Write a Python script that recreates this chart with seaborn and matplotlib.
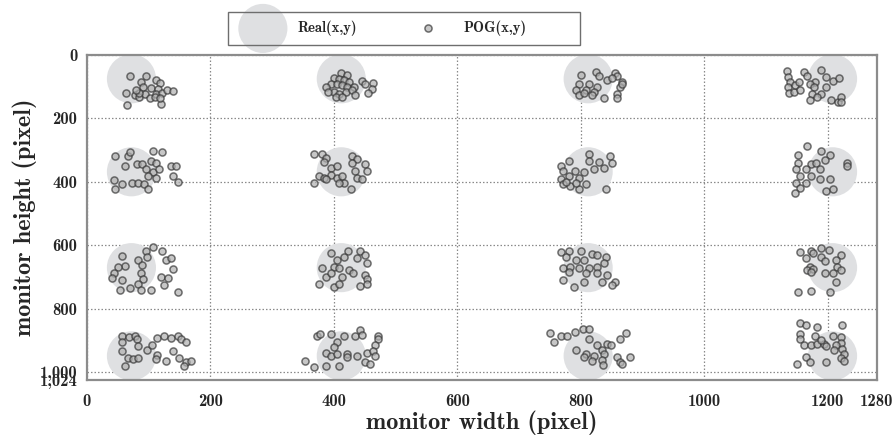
import matplotlib
matplotlib.use("Agg")
import matplotlib.pyplot as plt
from matplotlib.patches import Rectangle
import seaborn as sns
import pandas as pd

# ---- data ----
real_x = [72, 412, 812, 1208, 72, 412, 812, 1208, 72, 412, 812, 1208, 72, 412, 812, 1208]
real_y = [75, 75, 75, 75, 368, 368, 368, 368, 670, 670, 670, 670, 948, 948, 948, 948]

row1_x = [70, 95, 64, 65, 88, 111, 119, 91, 104, 115, 77, 85, 94, 102, 112, 122, 130, 139, 120, 84, 110, 118, 80,
          411, 421, 400, 408, 416, 424, 396, 405, 413, 421, 432, 446, 450, 464, 462, 456, 400, 408, 419, 430, 434, 403, 413, 388, 390,
          800, 824, 830, 855, 859, 843, 867, 797, 814, 826, 863, 793, 809, 822, 859, 797, 818, 838, 859, 805, 851, 867,
          1134, 1136, 1139, 1136, 1138, 1145, 1147, 1153, 1161, 1166, 1179, 1171, 1178, 1190, 1198, 1208, 1219, 1197, 1190, 1174, 1171, 1182, 1206, 1217, 1222, 1222, 1155]
row1_y = [67, 67, 120, 159, 85, 79, 87, 100, 104, 106, 127, 132, 124, 137, 122, 119, 109, 113, 153, 120, 132, 137, 109,
          58, 63, 71, 77, 79, 85, 90, 92, 95, 100, 100, 81, 92, 88, 106, 120, 116, 122, 116, 111, 127, 132, 132, 100, 118,
          63, 53, 67, 56, 67, 79, 85, 90, 90, 100, 100, 109, 111, 116, 122, 127, 127, 137, 137, 119, 74, 90,
          50, 69, 85, 100, 119, 116, 95, 85, 53, 67, 85, 90, 100, 48, 69, 81, 74, 100, 122, 124, 143, 132, 143, 148, 132, 148, 111]

row2_x = [45, 66, 70, 107, 122, 62, 81, 89, 103, 112, 95, 107, 117, 136, 145, 99, 139, 43, 56, 73, 83, 93, 99, 45, 147, 112,
          368, 380, 388, 384, 396, 405, 430, 438, 430, 450, 454, 434, 376, 384, 396, 405, 413, 417, 409, 438, 446, 428, 368, 388,
          814, 847, 851, 781, 814, 830, 838, 768, 772, 791, 805, 822, 781, 797, 768, 772, 783, 797, 809, 841, 776, 793,
          1166, 1152, 1189, 1204, 1152, 1173, 1181, 1196, 1148, 1165, 1188, 1232, 1232, 1156, 1173, 1188, 1204, 1148, 1165, 1155, 1147, 1198, 1208]
row2_y = [317, 317, 305, 302, 305, 349, 344, 344, 333, 339, 360, 370, 360, 351, 351, 381, 381, 394, 407, 402, 402, 407, 423, 423, 400, 386,
          312, 312, 323, 337, 355, 349, 317, 328, 339, 344, 365, 365, 381, 389, 379, 386, 381, 402, 402, 386, 392, 421, 404, 392,
          312, 317, 339, 333, 333, 337, 355, 349, 365, 365, 370, 360, 381, 389, 392, 407, 413, 421, 407, 421, 400, 402,
          288, 315, 302, 315, 339, 344, 339, 330, 360, 360, 360, 339, 349, 381, 381, 392, 392, 402, 402, 418, 434, 429, 421]

row3_x = [107, 122, 95, 97, 56, 83, 89, 128, 136, 62, 50, 140, 43, 41, 56, 87, 91, 120, 131, 83, 54, 70, 87, 103, 124, 147,
          396, 423, 442, 450, 405, 417, 438, 380, 401, 409, 425, 453, 388, 413, 431, 450, 454, 376, 401, 409, 442, 454, 396,
          768, 781, 800, 818, 826, 841, 776, 793, 805, 838, 772, 783, 797, 814, 826, 781, 809, 826, 843, 772, 789, 805, 834, 855, 851,
          1155, 1173, 1177, 1189, 1202, 1165, 1189, 1196, 1221, 1214, 1171, 1166, 1177, 1216, 1222, 1196, 1208, 1173, 1213, 1152, 1173, 1204]
row3_y = [605, 616, 619, 635, 633, 646, 661, 646, 640, 665, 669, 675, 686, 704, 709, 688, 707, 698, 704, 722, 739, 735, 739, 741, 725, 746,
          624, 619, 616, 630, 646, 637, 640, 672, 667, 672, 677, 656, 698, 698, 688, 693, 707, 722, 730, 722, 728, 720, 688,
          622, 616, 619, 626, 630, 635, 635, 646, 646, 656, 672, 667, 672, 672, 667, 683, 688, 688, 693, 709, 730, 714, 714, 714, 725,
          622, 616, 624, 608, 614, 640, 637, 648, 630, 646, 667, 677, 675, 667, 677, 688, 688, 683, 714, 746, 743, 746]

row4_x = [56, 56, 68, 78, 81, 83, 56, 66, 62, 74, 83, 97, 106, 114, 124, 136, 147, 153, 161, 114, 112, 128, 140, 149, 161, 169, 157,
          372, 378, 396, 417, 434, 442, 446, 471, 471, 405, 401, 467, 388, 395, 405, 421, 421, 438, 454, 464, 467, 354, 368, 388, 409, 450, 458,
          750, 756, 768, 778, 791, 803, 814, 874, 863, 814, 826, 843, 849, 834, 838, 793, 809, 822, 805, 818, 834, 836, 859, 863, 867, 880,
          1155, 1165, 1183, 1223, 1156, 1180, 1156, 1161, 1173, 1183, 1194, 1198, 1208, 1221, 1221, 1213, 1223, 1210, 1227, 1221, 1227, 1165, 1150, 1171, 1198, 1189]
row4_y = [886, 905, 889, 884, 894, 917, 934, 956, 981, 958, 955, 928, 915, 892, 886, 892, 886, 896, 903, 945, 958, 963, 934, 955, 966, 963, 979,
          886, 878, 878, 886, 886, 868, 881, 886, 896, 905, 921, 915, 939, 947, 942, 942, 952, 949, 939, 934, 949, 963, 984, 979, 979, 968, 973,
          875, 903, 884, 886, 873, 864, 862, 875, 894, 894, 915, 910, 915, 931, 942, 931, 942, 947, 952, 963, 960, 977, 952, 968, 973, 952,
          843, 852, 857, 852, 878, 884, 894, 915, 915, 910, 910, 917, 886, 889, 907, 915, 926, 931, 942, 955, 963, 952, 973, 968, 968, 899]

x_ticks = [0, 200, 400, 600, 800, 1000, 1200, 1280]
x_tick_labels = ["0", "200", "400", "600", "800", "1000", "1200", "1280"]
y_ticks = [0, 200, 400, 600, 800, 1000, 1024]
y_tick_labels = ["0", "200", "400", "600", "800", "1,000", "1,024"]

real_df = pd.DataFrame({"x": real_x, "y": real_y})
pog_df = pd.DataFrame({"x": row1_x + row2_x + row3_x + row4_x,
                       "y": row1_y + row2_y + row3_y + row4_y})

# ---- style ----
sns.set_style("white")
plt.rcParams["font.family"] = ["cmb10", "DejaVu Serif"]
plt.rcParams["axes.unicode_minus"] = False

W, H = 895, 442
fig = plt.figure(figsize=(W / 100, H / 100), dpi=100)
ax = fig.add_axes([87 / W, 1 - 380 / H, 790 / W, 325 / H])

sns.scatterplot(data=real_df, x="x", y="y", s=1250, color="#dfe0e2",
                edgecolor="none", linewidth=0, label="Real(x,y)", ax=ax, zorder=2)
sns.scatterplot(data=pog_df, x="x", y="y", s=26, facecolor="#b0b0b0",
                edgecolor="#363636", linewidth=1.1, alpha=0.7,
                label="POG(x,y)", ax=ax, zorder=3)

ax.set_xlim(0, 1280)
ax.set_ylim(1024, 0)
ax.set_xticks(x_ticks)
ax.set_xticklabels(x_tick_labels)
ax.set_yticks(y_ticks)
ax.set_yticklabels(y_tick_labels)
ax.tick_params(axis="both", labelsize=12, direction="in", length=3,
               color="#777777")
ax.tick_params(axis="x", pad=10)
ax.tick_params(axis="y", pad=7)
ax.grid(True, linestyle=(0, (1.2, 1.6)), color="#8a8a8a", linewidth=0.9)
ax.set_axisbelow(True)
for sp in ax.spines.values():
    sp.set_color("#8c8c8c")
    sp.set_linewidth(1.6)

ax.set_xlabel("monitor width (pixel)", fontsize=17.5, labelpad=1)
ax.set_ylabel("monitor height (pixel)", fontsize=17.5, labelpad=2)

# legend frame (drawn separately so that its width matches the reference)
fig.add_artist(Rectangle((228 / W, 1 - 45 / H), 352 / W, 33 / H,
                         transform=fig.transFigure, fill=False,
                         edgecolor="#6e6e6e", linewidth=1.0, zorder=1))
leg = ax.legend(loc="center left", bbox_to_anchor=(241 / W, 1 - 28.5 / H),
                bbox_transform=fig.transFigure, ncol=2, frameon=False,
                fontsize=10.5, handlelength=3.0, handletextpad=0.9,
                columnspacing=3.36, borderpad=0.0, borderaxespad=0.0)
leg.set_zorder(5)

fig.savefig("out.png", dpi=100)
